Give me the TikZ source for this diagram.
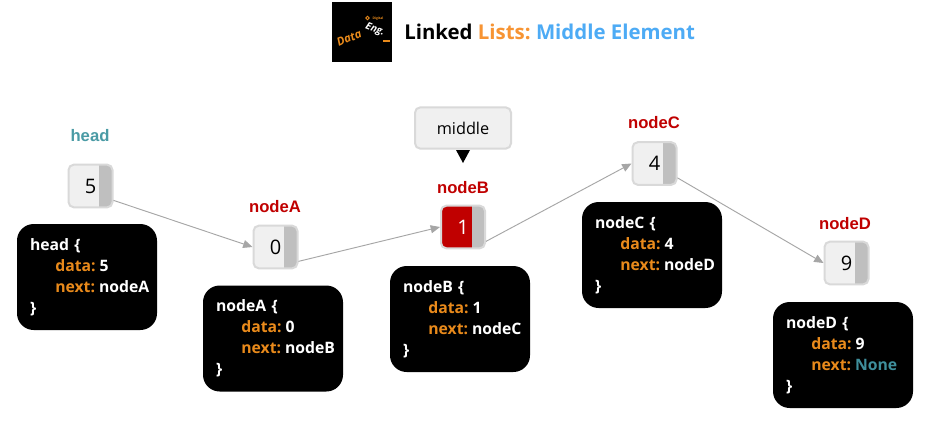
\documentclass[tikz,border=0pt]{standalone}
\usepackage{fontspec}
\setmainfont{Open Sans}
\newfontfamily\arialfont{Liberation Sans}
\usetikzlibrary{arrows.meta}
\definecolor{cellfill}{HTML}{F0F0F0}
\definecolor{celledge}{HTML}{D9D9D9}
\definecolor{barcol}{HTML}{BFBFBF}
\definecolor{nodered}{HTML}{C00000}
\definecolor{headteal}{HTML}{4A9BA5}
\definecolor{keyorange}{HTML}{E98A1B}
\definecolor{noneteal}{HTML}{3F8F9C}
\definecolor{titleorange}{HTML}{F79433}
\definecolor{titleblue}{HTML}{4DABF5}
\definecolor{linkgray}{HTML}{A6A6A6}
\newcommand{\kw}[1]{\textcolor{keyorange}{#1}}
\newcommand{\codeind}{\hspace*{19pt}}
\newcommand{\codeblock}[3]{#1\hspace{4pt}\{\\\codeind\kw{data:}\hspace{3pt}#2\\\codeind\kw{next:}\hspace{3pt}\rlap{#3}\\\}}
\tikzset{
  cell/.style={draw=celledge,fill=cellfill,line width=1.5pt,rounded corners=4pt,
    minimum width=33pt,minimum height=32pt,inner sep=0pt,text=black,
    font=\fontsize{15}{18}\selectfont,
    path picture={\fill[barcol,sharp corners] ([xshift=-10pt]path picture bounding box.north east) rectangle (path picture bounding box.south east);}},
  redcell/.style={cell,fill=nodered,text=white},
  code/.style={fill=black,text=white,rounded corners=12.5pt,minimum width=105pt,minimum height=79.5pt,
    inner sep=0pt,text width=85.5pt,align=left,font=\fontsize{11.8}{15.75}\selectfont\bfseries},
  nodelab/.style={text=nodered,font=\arialfont\fontsize{12.5}{14}\selectfont\bfseries,inner sep=0pt},
  headlab/.style={nodelab,text=headteal},
  linkline/.style={draw=linkgray,line width=0.7pt,-{Triangle[length=7pt,width=6pt]}},
  callout/.style={draw=celledge,fill=cellfill,line width=1.5pt,rounded corners=4pt,
    minimum width=72pt,minimum height=31pt,inner sep=0pt,font=\fontsize{12.2}{14}\selectfont}
}
\begin{document}
\begin{tikzpicture}[x=0.75pt,y=-0.75pt]
\useasboundingbox[fill=white] (0,0) rectangle (930,433);
% logo
\node[fill=black,minimum size=45pt,inner sep=0pt] (logo) at (362,32) {};
\node[text=keyorange,rotate=24,inner sep=0pt,font=\fontsize{8.5}{10}\selectfont\itshape\bfseries] (logodata) at (349,38) {Data};
\node[text=white,rotate=-22,inner sep=0pt,font=\fontsize{7.5}{9}\selectfont\itshape\bfseries] (logoeng) at (375,30) {Eng.};
\node[text=keyorange,inner sep=0pt,font=\fontsize{2.5}{3}\selectfont\bfseries] (logodig) at (378,19) {Digital};
\draw[keyorange,line width=0.6pt] (367.5,18) circle (1.8);
\draw[keyorange,line width=0.8pt] (383,41) -- (390,41);
% title
\node[anchor=west,inner sep=0pt,font=\fontsize{15.3}{18}\selectfont\bfseries] (title) at (404,31.5)
  {Linked\hspace{4pt}\textcolor{titleorange}{Lists:}\hspace{4pt}\textcolor{titleblue}{Middle\hspace{4pt}Element}};
% cells
\node[cell] (head) at (90.5,186) {5};
\node[cell] (nodeA) at (275.5,247) {0};
\node[redcell] (nodeB) at (463,227) {1};
\node[cell] (nodeC) at (654.5,163.5) {4};
\node[cell] (nodeD) at (846.5,263) {9};
% labels
\node[headlab] (headlabel) at (90,135.5) {head};
\node[nodelab] (nodeAlabel) at (275,207) {nodeA};
\node[nodelab] (nodeBlabel) at (463,188) {nodeB};
\node[nodelab] (nodeClabel) at (654,123) {nodeC};
\node[nodelab] (nodeDlabel) at (845,224) {nodeD};
% callout
\node[callout] (middle) at (463,128) {middle};
\coordinate (middletip) at (463,163);
\fill[black] (456,150) -- (470,150) -- (middletip) -- cycle;
% code boxes
\node[code] (headcode) at (87,277) {\codeblock{head}{5}{nodeA}};
\node[code] (nodeAcode) at (273,338.5) {\codeblock{nodeA}{0}{nodeB}};
\node[code] (nodeBcode) at (460,319) {\codeblock{nodeB}{1}{nodeC}};
\node[code] (nodeCcode) at (652,255) {\codeblock{nodeC}{4}{nodeD}};
\node[code] (nodeDcode) at (843,355) {\codeblock{nodeD}{9}{\textcolor{noneteal}{None}}};
% links
\draw[linkline] (head.-32) -- (nodeA.west);
\draw[linkline] (nodeA.-32) -- (nodeB.west);
\draw[linkline] (nodeB.-32) -- (nodeC.west);
\draw[linkline] (nodeC.-32) -- (nodeD.west);
\end{tikzpicture}
\end{document}
